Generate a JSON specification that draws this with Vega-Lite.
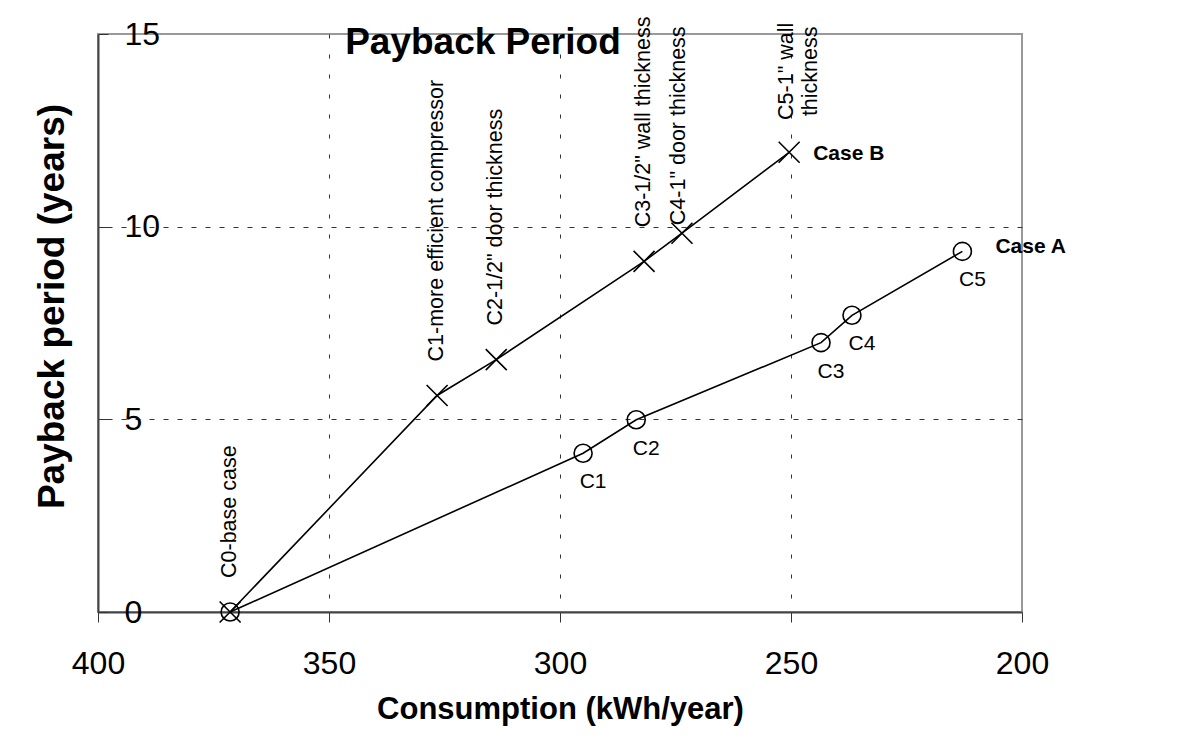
{
  "$schema": "https://vega.github.io/schema/vega-lite/v6.json",
  "width": 924,
  "height": 578,
  "autosize": {"type": "none"},
  "padding": {"left": 98, "top": 34, "right": 169, "bottom": 130},
  "background": "white",
  "config": {"view": {"stroke": "#999", "strokeWidth": 2}, "font": "Liberation Sans"},
  "datasets": {
    "points": [
      {"series": "Case A", "step": 0, "consumption": 371.4, "payback": 0, "label": ""},
      {"series": "Case A", "step": 1, "consumption": 295.0, "payback": 4.12, "label": "C1"},
      {"series": "Case A", "step": 2, "consumption": 283.5, "payback": 4.99, "label": "C2"},
      {"series": "Case A", "step": 3, "consumption": 243.5, "payback": 6.99, "label": "C3"},
      {"series": "Case A", "step": 4, "consumption": 236.8, "payback": 7.70, "label": "C4"},
      {"series": "Case A", "step": 5, "consumption": 212.9, "payback": 9.36, "label": "C5"},
      {"series": "Case B", "step": 0, "consumption": 371.4, "payback": 0, "label": "C0-base case"},
      {"series": "Case B", "step": 1, "consumption": 326.6, "payback": 5.62, "label": "C1-more efficient compressor"},
      {"series": "Case B", "step": 2, "consumption": 313.8, "payback": 6.55, "label": "C2-1/2\" door thickness"},
      {"series": "Case B", "step": 3, "consumption": 281.8, "payback": 9.10, "label": "C3-1/2\" wall thickness"},
      {"series": "Case B", "step": 4, "consumption": 273.6, "payback": 9.83, "label": "C4-1\" door thickness"},
      {"series": "Case B", "step": 5, "consumption": 250.4, "payback": 11.93, "label": "C5-1\" wall\nthickness"}
    ],
    "heading": [
      {"title": "Payback Period", "consumption": 346.5, "payback": 14.49}
    ]
  },
  "data": {"name": "points"},
  "encoding": {
    "x": {
      "field": "consumption", "type": "quantitative",
      "scale": {"domain": [200, 400], "reverse": true, "nice": false, "zero": false},
      "axis": {
        "values": [200, 250, 300, 350, 400],
        "title": "Consumption (kWh/year)",
        "titleFontSize": 31, "titleFontWeight": "bold", "titleColor": "black",
        "titleY": 106, "titleBaseline": "alphabetic",
        "labelFontSize": 32, "labelPadding": 26, "labelFlush": false, "labelColor": "black",
        "tickColor": "#333", "tickSize": 10, "tickWidth": 1,
        "domainColor": "#444", "domainWidth": 2,
        "grid": true,
        "gridColor": {"condition": {"test": "datum.value == 200 || datum.value == 400", "value": "transparent"}, "value": "#333"},
        "gridDash": [4, 16], "gridWidth": 1
      }
    },
    "y": {
      "field": "payback", "type": "quantitative",
      "scale": {"domain": [0, 15], "nice": false},
      "axis": {
        "values": [0, 5, 10, 15],
        "title": "Payback period (years)",
        "titleFontSize": 37, "titleFontWeight": "bold", "titleColor": "black",
        "titleAngle": 270, "titleX": -35, "titleY": 272, "titleBaseline": "alphabetic", "titleAlign": "center",
        "labelFontSize": 32, "labelAlign": "left", "labelBaseline": "middle", "labelColor": "black",
        "tickSize": -10, "labelPadding": -16, "labelFlush": false, "labelOverlap": false,
        "tickColor": "#333", "tickWidth": 1,
        "domainColor": "#444", "domainWidth": 2,
        "grid": true,
        "gridColor": {"condition": {"test": "datum.value == 0 || datum.value == 15", "value": "transparent"}, "value": "#333"},
        "gridDash": [5, 9], "gridWidth": 1
      }
    }
  },
  "layer": [
    {
      "mark": {"type": "line", "interpolate": "linear", "color": "black", "strokeWidth": 1.6},
      "encoding": {"detail": {"field": "series"}, "order": {"field": "step", "type": "quantitative"}}
    },
    {
      "transform": [{"filter": "datum.series == 'Case A'"}],
      "mark": {"type": "point", "shape": "circle", "size": 324, "filled": false, "stroke": "black", "strokeWidth": 1.6, "opacity": 1}
    },
    {
      "transform": [{"filter": "datum.series == 'Case B'"}],
      "mark": {"type": "point", "shape": "M-1,-1L1,1M-1,1L1,-1", "size": 441, "filled": false, "stroke": "black", "strokeWidth": 1.6, "opacity": 1}
    },
    {
      "transform": [{"filter": "datum.series == 'Case A' && datum.step > 0"}],
      "mark": {"type": "text", "dx": 10, "dy": 29, "fontSize": 21, "align": "center", "baseline": "middle", "color": "black"},
      "encoding": {"text": {"field": "label"}}
    },
    {
      "transform": [{"filter": "datum.series == 'Case B' && datum.step != 4 && datum.step != 5"}],
      "mark": {"type": "text", "angle": 270, "dx": 34, "dy": 0, "fontSize": 21.5, "align": "left", "baseline": "middle", "color": "black"},
      "encoding": {"text": {"field": "label"}}
    },
    {
      "transform": [{"filter": "datum.series == 'Case B' && datum.step == 4"}],
      "mark": {"type": "text", "angle": 270, "dx": 8, "dy": -3, "fontSize": 21.5, "align": "left", "baseline": "middle", "color": "black"},
      "encoding": {"text": {"field": "label"}}
    },
    {
      "transform": [{"filter": "datum.series == 'Case B' && datum.step == 5"}],
      "mark": {"type": "text", "angle": 270, "dx": 81, "dy": -2, "fontSize": 21.5, "align": "center", "baseline": "middle", "color": "black", "lineBreak": "\n"},
      "encoding": {"text": {"field": "label"}}
    },
    {
      "transform": [{"filter": "datum.series == 'Case A' && datum.step == 5"}],
      "mark": {"type": "text", "dx": 33, "dy": -4, "fontSize": 21, "fontWeight": "bold", "align": "left", "baseline": "middle", "color": "black"},
      "encoding": {"text": {"field": "series"}}
    },
    {
      "transform": [{"filter": "datum.series == 'Case B' && datum.step == 5"}],
      "mark": {"type": "text", "dx": 24, "dy": 2, "fontSize": 21, "fontWeight": "bold", "align": "left", "baseline": "middle", "color": "black"},
      "encoding": {"text": {"field": "series"}}
    },
    {
      "data": {"name": "heading"},
      "mark": {"type": "text", "fontSize": 37, "fontWeight": "bold", "align": "left", "baseline": "alphabetic", "color": "black"},
      "encoding": {"text": {"field": "title"}}
    }
  ]
}
